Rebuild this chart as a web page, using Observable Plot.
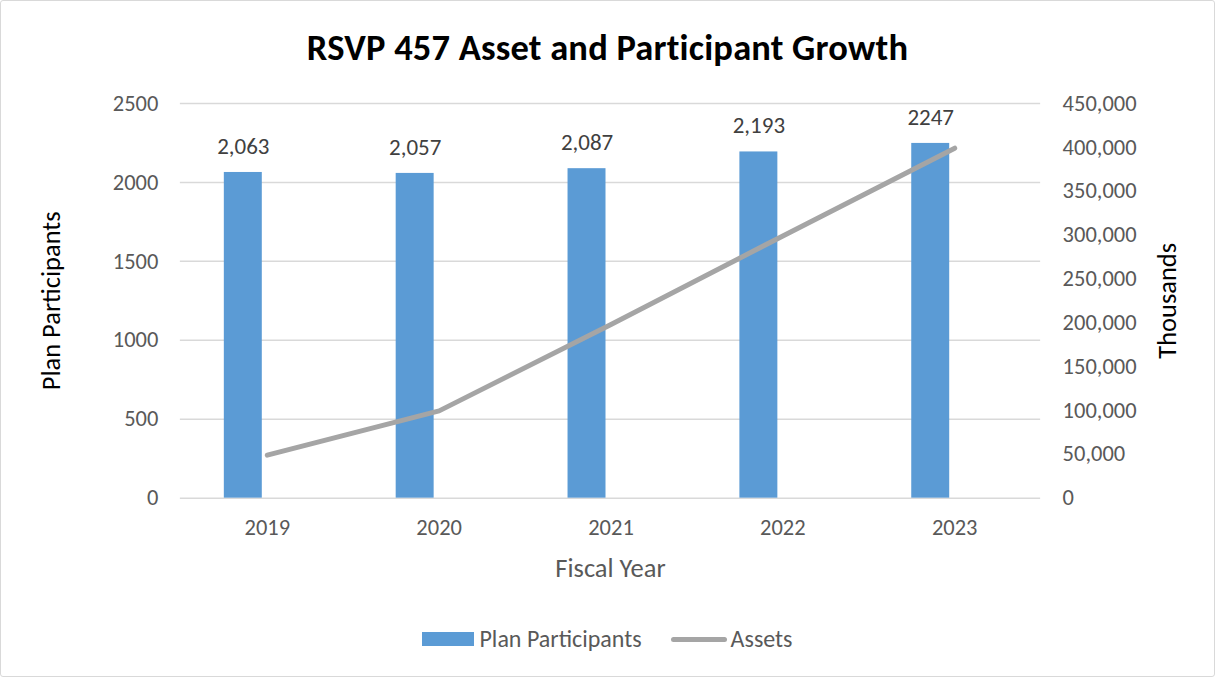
<!DOCTYPE html>
<html>
<head>
<meta charset="utf-8">
<script src="https://cdn.jsdelivr.net/npm/d3@7"></script>
<script src="https://cdn.jsdelivr.net/npm/@observablehq/plot@0.6"></script>
<style>
  html, body { margin: 0; padding: 0; background: #fff; }
  #wrap { position: relative; width: 1215px; height: 677px; box-sizing: border-box; border: 1px solid #d9d9d9; border-radius: 3px; overflow: hidden; font-family: Carlito, Calibri, Lato, sans-serif; }
  #title { position: absolute; left: 0; width: 100%; top: 25px; text-align: center; font-size: 36.5px; font-weight: bold; color: #000; line-height: 44px; letter-spacing: 0.2px; }
  #chart { position: absolute; left: -1px; top: 79px; }
  #legend { position: absolute; left: 0; width: 100%; top: 624px; display: flex; justify-content: center; align-items: center; font-size: 24px; color: #595959; line-height: 28px; }
  .sw { display: inline-block; }
</style>
</head>
<body>
<div id="wrap">
  <div id="title">RSVP 457 Asset and Participant Growth</div>
  <div id="chart"></div>
  <div id="legend">
    <span class="sw" style="width:52px;height:14px;background:#5b9bd5;margin-right:5px;"></span><span>Plan Participants</span>
    <span class="sw" style="width:56px;height:5px;border-radius:3px;background:#a5a5a5;margin-left:29px;margin-right:4px;"></span><span>Assets</span>
  </div>
</div>
<script>
const years = ["2019", "2020", "2021", "2022", "2023"];
const participants = [2063, 2057, 2087, 2193, 2247];
const participantLabels = ["2,063", "2,057", "2,087", "2,193", "2247"];
const assets = [49000, 99500, 198000, 299000, 399000]; // thousands
const leftTicks = [0, 500, 1000, 1500, 2000, 2500];
const rightTicks = [0, 50000, 100000, 150000, 200000, 250000, 300000, 350000, 400000, 450000];

const leftMax = 2500, rightMax = 450000;
const k = leftMax / rightMax;

const rows = years.map((y, i) => ({year: y, participants: participants[i], label: participantLabels[i], assets: assets[i], assetsScaled: assets[i] * k}));

const fontFamily = "Carlito, Calibri, Lato, sans-serif";

const chart = Plot.plot({
  width: 1215,
  height: 515,
  marginTop: 23,
  marginBottom: 97,
  marginLeft: 180,
  marginRight: 174,
  style: {fontFamily, fontSize: "22.5px", color: "#595959", background: "transparent"},
  x: {domain: years, padding: 0, axis: null},
  y: {domain: [0, leftMax], axis: null},
  marks: [
    Plot.ruleY(leftTicks, {stroke: "#d9d9d9", strokeWidth: 1.5}),
    Plot.barY(rows, {x: "year", y: "participants", fill: "#5b9bd5", insetLeft: 43, insetRight: 91}),
    Plot.text(rows, {x: "year", y: "participants", text: "label", dx: -24, dy: -26, fill: "#404040", fontSize: 23}),
    Plot.line(rows, {x: "year", y: "assetsScaled", stroke: "#a5a5a5", strokeWidth: 5, strokeLinecap: "round", strokeLinejoin: "round"}),
    Plot.axisX({anchor: "bottom", tickSize: 0, tickPadding: 21, label: null, fontSize: 22.5}),
    Plot.axisY(leftTicks, {anchor: "left", tickSize: 0, tickPadding: 22, label: null, fontSize: 22.5, tickFormat: d => String(d)}),
    Plot.axisY(rightTicks.map(v => v * k), {anchor: "right", tickSize: 0, tickPadding: 22, label: null, fontSize: 22.5,
      tickFormat: v => d3.format(",")(Math.round(v / k))}),
    Plot.text(["Plan Participants"], {frameAnchor: "left", dx: -129, rotate: -90, fontSize: 26.5, fill: "#000", textAnchor: "middle", lineAnchor: "middle"}),
    Plot.text(["Thousands"], {frameAnchor: "right", dx: 127, rotate: -90, fontSize: 26.5, fill: "#000", textAnchor: "middle", lineAnchor: "middle"}),
    Plot.text(["Fiscal Year"], {frameAnchor: "bottom", dy: 70, fontSize: 26.5, fill: "#595959", textAnchor: "middle", lineAnchor: "middle"})
  ]
});
document.getElementById("chart").appendChild(chart);
</script>
</body>
</html>
